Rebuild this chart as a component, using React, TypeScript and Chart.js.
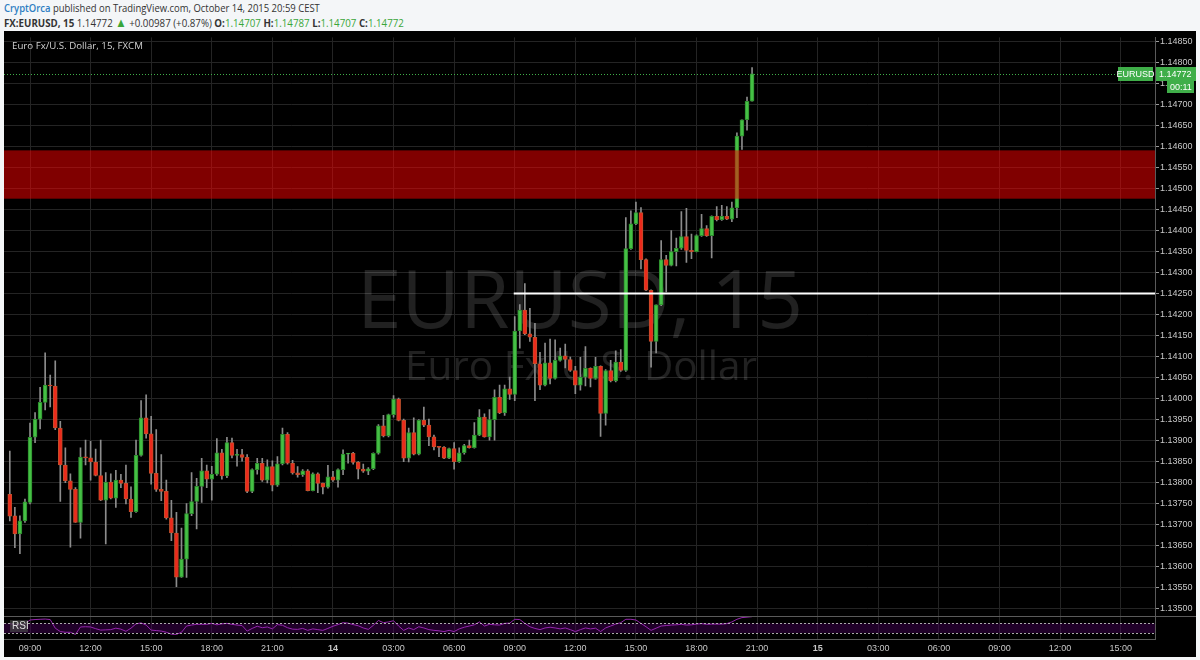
import React, { useEffect, useRef } from 'react';
import { Chart, registerables } from 'chart.js';

Chart.register(...registerables);

// ---- data (15-minute candles, index 0 = Oct 13 09:00) ----
const firstCandleIndex = -4;
const opens = [
  1.13771, 1.13720, 1.13677, 1.13708, 1.13752, 1.13907, 1.13950, 1.13990, 1.14031, 1.14029,
  1.13929, 1.13841, 1.13803, 1.13783, 1.13704, 1.13860, 1.13858, 1.13848, 1.13816, 1.13757,
  1.13800, 1.13762, 1.13805, 1.13797, 1.13760, 1.13730, 1.13864, 1.13953, 1.13915, 1.13821,
  1.13783, 1.13778, 1.13715, 1.13679, 1.13574, 1.13617, 1.13725, 1.13754, 1.13790, 1.13827,
  1.13807, 1.13819, 1.13870, 1.13815, 1.13894, 1.13864, 1.13866, 1.13859, 1.13778, 1.13830,
  1.13845, 1.13805, 1.13837, 1.13793, 1.13844, 1.13914, 1.13845, 1.13822, 1.13818, 1.13827,
  1.13780, 1.13820, 1.13797, 1.13788, 1.13813, 1.13805, 1.13830, 1.13867, 1.13869, 1.13847,
  1.13831, 1.13826, 1.13832, 1.13869, 1.13934, 1.13910, 1.13961, 1.13998, 1.13947, 1.13857,
  1.13918, 1.13867, 1.13947, 1.13936, 1.13908, 1.13884, 1.13883, 1.13857, 1.13880, 1.13849,
  1.13870, 1.13887, 1.13882, 1.13912, 1.13955, 1.13908, 1.13949, 1.14002, 1.13965, 1.14022,
  1.14009, 1.14160, 1.14210, 1.14153, 1.14145, 1.14082, 1.14031, 1.14084, 1.14047, 1.14090,
  1.14101, 1.14092, 1.14066, 1.14031, 1.14050, 1.14071, 1.14047, 1.14076, 1.13964, 1.14066,
  1.14041, 1.14086, 1.14066, 1.14356, 1.14415, 1.14442, 1.14330, 1.14257, 1.14135, 1.14222,
  1.14330, 1.14316, 1.14349, 1.14357, 1.14385, 1.14352, 1.14349, 1.14387, 1.14404, 1.14387,
  1.14433, 1.14425, 1.14433, 1.14426, 1.14453, 1.14624, 1.14663, 1.14707,
];
const highs = [
  1.13874, 1.13740, 1.13720, 1.13760, 1.13941, 1.13966, 1.14026, 1.14108, 1.14055, 1.14089,
  1.13945, 1.13882, 1.13820, 1.13787, 1.13882, 1.13900, 1.13897, 1.13879, 1.13900, 1.13823,
  1.13820, 1.13828, 1.13819, 1.13841, 1.13789, 1.13900, 1.13994, 1.14008, 1.13957, 1.13925,
  1.13866, 1.13805, 1.13757, 1.13728, 1.13691, 1.13749, 1.13823, 1.13809, 1.13857, 1.13841,
  1.13838, 1.13904, 1.13878, 1.13907, 1.13905, 1.13878, 1.13878, 1.13866, 1.13832, 1.13857,
  1.13857, 1.13853, 1.13851, 1.13861, 1.13929, 1.13918, 1.13852, 1.13837, 1.13830, 1.13830,
  1.13822, 1.13822, 1.13798, 1.13840, 1.13826, 1.13832, 1.13877, 1.13869, 1.13871, 1.13849,
  1.13843, 1.13835, 1.13870, 1.13937, 1.13959, 1.13962, 1.14006, 1.14000, 1.13950, 1.13929,
  1.13953, 1.13949, 1.13979, 1.13950, 1.13912, 1.13885, 1.13885, 1.13881, 1.13894, 1.13882,
  1.13890, 1.13900, 1.13942, 1.13973, 1.13963, 1.13973, 1.14020, 1.14031, 1.14031, 1.14050,
  1.14194, 1.14223, 1.14273, 1.14214, 1.14178, 1.14109, 1.14131, 1.14141, 1.14139, 1.14119,
  1.14129, 1.14098, 1.14076, 1.14097, 1.14123, 1.14072, 1.14097, 1.14077, 1.14068, 1.14090,
  1.14113, 1.14116, 1.14430, 1.14446, 1.14467, 1.14454, 1.14332, 1.14258, 1.14222, 1.14375,
  1.14340, 1.14399, 1.14381, 1.14444, 1.14452, 1.14391, 1.14389, 1.14438, 1.14411, 1.14434,
  1.14456, 1.14459, 1.14456, 1.14467, 1.14632, 1.14663, 1.14717, 1.14787,
];
const lows = [
  1.13708, 1.13644, 1.13630, 1.13704, 1.13748, 1.13894, 1.13927, 1.13972, 1.13979, 1.13925,
  1.13754, 1.13799, 1.13645, 1.13704, 1.13667, 1.13841, 1.13805, 1.13815, 1.13756, 1.13653,
  1.13760, 1.13740, 1.13787, 1.13748, 1.13716, 1.13728, 1.13862, 1.13905, 1.13795, 1.13778,
  1.13756, 1.13712, 1.13661, 1.13551, 1.13573, 1.13573, 1.13720, 1.13689, 1.13752, 1.13787,
  1.13757, 1.13816, 1.13807, 1.13811, 1.13858, 1.13838, 1.13850, 1.13775, 1.13775, 1.13819,
  1.13802, 1.13798, 1.13779, 1.13790, 1.13841, 1.13843, 1.13819, 1.13812, 1.13814, 1.13779,
  1.13779, 1.13775, 1.13772, 1.13786, 1.13802, 1.13788, 1.13818, 1.13845, 1.13843, 1.13808,
  1.13823, 1.13818, 1.13830, 1.13867, 1.13908, 1.13908, 1.13955, 1.13946, 1.13849, 1.13848,
  1.13865, 1.13865, 1.13932, 1.13887, 1.13877, 1.13861, 1.13856, 1.13856, 1.13831, 1.13847,
  1.13867, 1.13881, 1.13881, 1.13911, 1.13907, 1.13900, 1.13900, 1.13963, 1.13959, 1.13997,
  1.13994, 1.14119, 1.14151, 1.14135, 1.13994, 1.14020, 1.14029, 1.14034, 1.14045, 1.14088,
  1.14072, 1.14064, 1.14011, 1.14019, 1.14029, 1.14027, 1.14045, 1.13909, 1.13936, 1.14039,
  1.14039, 1.14064, 1.14064, 1.14354, 1.14413, 1.14308, 1.14256, 1.14074, 1.14108, 1.14220,
  1.14253, 1.14315, 1.14315, 1.14354, 1.14323, 1.14332, 1.14348, 1.14385, 1.14385, 1.14334,
  1.14422, 1.14423, 1.14425, 1.14420, 1.14430, 1.14592, 1.14638, 1.14707,
];
const closes = [
  1.13719, 1.13677, 1.13708, 1.13753, 1.13907, 1.13950, 1.13990, 1.14031, 1.14029, 1.13929,
  1.13841, 1.13803, 1.13783, 1.13704, 1.13860, 1.13858, 1.13848, 1.13816, 1.13757, 1.13800,
  1.13762, 1.13805, 1.13797, 1.13760, 1.13730, 1.13864, 1.13953, 1.13915, 1.13821, 1.13783,
  1.13778, 1.13715, 1.13679, 1.13574, 1.13617, 1.13725, 1.13754, 1.13790, 1.13827, 1.13807,
  1.13819, 1.13870, 1.13815, 1.13894, 1.13864, 1.13866, 1.13859, 1.13778, 1.13830, 1.13845,
  1.13805, 1.13837, 1.13793, 1.13844, 1.13914, 1.13845, 1.13822, 1.13818, 1.13827, 1.13780,
  1.13820, 1.13797, 1.13788, 1.13813, 1.13805, 1.13830, 1.13867, 1.13869, 1.13847, 1.13831,
  1.13826, 1.13832, 1.13869, 1.13934, 1.13910, 1.13961, 1.13998, 1.13947, 1.13857, 1.13918,
  1.13867, 1.13947, 1.13936, 1.13908, 1.13884, 1.13883, 1.13857, 1.13880, 1.13849, 1.13870,
  1.13887, 1.13882, 1.13912, 1.13955, 1.13908, 1.13949, 1.14002, 1.13965, 1.14022, 1.14009,
  1.14160, 1.14210, 1.14153, 1.14145, 1.14082, 1.14031, 1.14084, 1.14047, 1.14090, 1.14101,
  1.14092, 1.14066, 1.14031, 1.14050, 1.14071, 1.14047, 1.14076, 1.13964, 1.14066, 1.14041,
  1.14086, 1.14066, 1.14356, 1.14415, 1.14442, 1.14330, 1.14257, 1.14135, 1.14222, 1.14330,
  1.14316, 1.14349, 1.14357, 1.14385, 1.14352, 1.14349, 1.14387, 1.14404, 1.14387, 1.14433,
  1.14425, 1.14433, 1.14426, 1.14453, 1.14624, 1.14663, 1.14707, 1.14772,
];
const rsiValues = [
  70, 62, 64, 68, 84, 86, 87, 88, 86, 50, 36, 33, 33, 24, 55, 56, 55, 48, 42, 43,
  44, 50, 46, 37, 50, 68, 72, 63, 42, 40, 38, 33, 25, 24, 33, 59, 63, 66, 66, 66,
  70, 64, 68, 70, 66, 63, 61, 38, 49, 58, 52, 55, 47, 65, 62, 52, 46, 45, 49, 41,
  47, 44, 41, 49, 58, 65, 73, 71, 65, 60, 51, 45, 62, 82,
  73, 76, 81, 59, 41, 51, 44, 56, 51, 44, 41, 39, 36, 41, 36, 47, 54, 59, 64, 76,
  59, 66, 64, 63, 70, 71, 87, 86, 70, 56, 49, 44, 51, 54, 51, 47, 51, 44, 36, 44,
  51, 47, 50, 36, 51, 59, 67, 73, 87, 87, 84, 70, 56, 41, 50, 59, 61, 63, 64, 66,
  63, 64, 67, 69, 66, 67, 67, 67, 69, 76, 87, 94, 96, 98,
];
const tickLabels = ['09:00', '12:00', '15:00', '18:00', '21:00', '14', '03:00', '06:00', '09:00', '12:00',
  '15:00', '18:00', '21:00', '15', '03:00', '06:00', '09:00', '12:00', '15:00'];
const boldTickLabels = ['14', '15'];
const candlesPerTick = 12;
const xMin = -5.15;
const xMax = 222.8;
const priceMin = 1.13481;
const priceMax = 1.14859;
const priceStep = 0.0005;
const rsiMin = 5;
const rsiMax = 100;
const rsiUpper = 70;
const rsiLower = 30;
const zoneLow = 1.14475;
const zoneHigh = 1.14590;
const levelPrice = 1.14250;
const levelStartIndex = 95.8;
const symbol = 'EURUSD';
const countdown = '00:11';

const UP_FILL = '#45c045';
const UP_BORDER = '#2c8a2c';
const DOWN_FILL = '#ec2a1c';
const DOWN_BORDER = '#c2502c';
const GREEN_TAG = '#3fae49';
const AXIS_FONT = '"Liberation Sans Narrow", "Liberation Sans", Arial, sans-serif';

function fitText(ctx: CanvasRenderingContext2D, text: string, x: number, y: number, width: number, family: string, weight = 'normal') {
  ctx.font = `${weight} 100px ${family}`;
  const w = ctx.measureText(text).width;
  const size = (100 * width) / w;
  ctx.font = `${weight} ${size}px ${family}`;
  ctx.fillText(text, x, y);
}

const overlayPlugin = {
  id: 'tvOverlay',
  beforeDatasetsDraw(chart: any) {
    const { ctx, chartArea: ca, scales } = chart;
    const r = scales.rsi;
    ctx.save();
    // RSI band
    const y70 = r.getPixelForValue(rsiUpper);
    const y30 = r.getPixelForValue(rsiLower);
    ctx.fillStyle = 'rgba(70,0,90,0.45)';
    ctx.fillRect(ca.left, y70, ca.right - ca.left, y30 - y70);
    // watermark
    ctx.fillStyle = 'rgba(255,255,255,0.13)';
    ctx.textAlign = 'left';
    ctx.textBaseline = 'alphabetic';
    fitText(ctx, `${symbol}, 15`, 353, 297, 446, '"Open Sans", sans-serif');
    fitText(ctx, 'Euro Fx/U.S. Dollar', 401, 349, 352, '"Open Sans", sans-serif');
    ctx.restore();
  },
  afterDatasetsDraw(chart: any) {
    const { ctx, chartArea: ca, scales } = chart;
    const y = scales.y;
    const x = scales.x;
    const r = scales.rsi;
    ctx.save();
    // resistance zone
    const zt = y.getPixelForValue(zoneHigh);
    const zb = y.getPixelForValue(zoneLow);
    ctx.fillStyle = 'rgba(255,0,0,0.5)';
    ctx.fillRect(ca.left, zt, ca.right - ca.left, zb - zt);
    // horizontal level
    const ly = Math.round(y.getPixelForValue(levelPrice)) + 0.5;
    ctx.strokeStyle = '#ffffff';
    ctx.lineWidth = 2;
    ctx.beginPath();
    ctx.moveTo(x.getPixelForValue(levelStartIndex), ly);
    ctx.lineTo(ca.right, ly);
    ctx.stroke();
    // last price dotted line
    const lastPrice = closes[closes.length - 1];
    const py = Math.round(y.getPixelForValue(lastPrice)) + 0.5;
    ctx.strokeStyle = GREEN_TAG;
    ctx.lineWidth = 1;
    ctx.setLineDash([1, 2]);
    ctx.beginPath();
    ctx.moveTo(ca.left, py);
    ctx.lineTo(ca.right - 37, py);
    ctx.stroke();
    // RSI levels
    ctx.strokeStyle = 'rgba(200,200,200,0.85)';
    ctx.setLineDash([2, 2]);
    for (const v of [rsiUpper, rsiLower]) {
      const yy = Math.round(r.getPixelForValue(v)) + 0.5;
      ctx.beginPath();
      ctx.moveTo(ca.left, yy);
      ctx.lineTo(ca.right, yy);
      ctx.stroke();
    }
    ctx.restore();
  },
  afterDraw(chart: any) {
    const { ctx, chartArea: ca, scales, width } = chart;
    const y = scales.y;
    const r = scales.rsi;
    ctx.save();
    // pane separator
    const sy = Math.round(r.top) + 0.5;
    ctx.strokeStyle = '#5a5a5a';
    ctx.lineWidth = 1;
    ctx.beginPath();
    ctx.moveTo(0, sy);
    ctx.lineTo(width, sy);
    ctx.stroke();
    // title
    ctx.fillStyle = '#d2d2d2';
    ctx.textBaseline = 'alphabetic';
    ctx.textAlign = 'left';
    fitText(ctx, 'Euro Fx/U.S. Dollar, 15, FXCM', 8, 18, 131, '"Open Sans", sans-serif');
    // RSI label
    ctx.fillStyle = 'rgba(70,70,70,0.7)';
    ctx.fillRect(ca.left + 6, r.top + 4, 18, 12);
    ctx.fillStyle = '#dddddd';
    ctx.font = `10px ${AXIS_FONT}`;
    ctx.textBaseline = 'middle';
    ctx.fillText('RSI', ca.left + 8, r.top + 10.5);
    // last price tags
    const lastPrice = closes[closes.length - 1];
    const py = Math.round(y.getPixelForValue(lastPrice));
    ctx.fillStyle = GREEN_TAG;
    ctx.fillRect(ca.right - 37, py - 7, 35, 14);
    ctx.fillRect(ca.right + 1, py - 7, 40, 14);
    ctx.fillRect(ca.right + 12, py + 7, 27, 12);
    ctx.fillStyle = '#ffffff';
    ctx.font = `9px ${AXIS_FONT}`;
    ctx.textBaseline = 'middle';
    ctx.textAlign = 'center';
    ctx.fillText(symbol, ca.right - 19.5, py + 0.5);
    ctx.textAlign = 'left';
    ctx.fillText(lastPrice.toFixed(5), ca.right + 4, py + 0.5);
    ctx.fillText(countdown, ca.right + 15, py + 13.5);
    ctx.restore();
  },
};

function ChartView() {
  const ref = useRef<HTMLCanvasElement | null>(null);
  useEffect(() => {
    if (!ref.current) return;
    const idx = opens.map((_, k) => k + firstCandleIndex);
    const up = opens.map((o, k) => closes[k] >= o);
    const chart = new Chart(ref.current, {
      type: 'bar',
      data: {
        datasets: [
          {
            type: 'bar',
            label: 'body',
            data: idx.map((xv, k) => ({ x: xv, y: [opens[k], closes[k]] })) as any,
            backgroundColor: up.map((u) => (u ? UP_FILL : DOWN_FILL)),
            borderColor: up.map((u) => (u ? UP_BORDER : DOWN_BORDER)),
            borderWidth: 1,
            borderSkipped: false,
            barThickness: 4,
            minBarLength: 1,
            grouped: false,
            xAxisID: 'x',
            yAxisID: 'y',
          } as any,
          {
            type: 'bar',
            label: 'wick',
            data: idx.map((xv, k) => ({ x: xv, y: [lows[k], highs[k]] })) as any,
            backgroundColor: '#8c8c8c',
            borderWidth: 0,
            barThickness: 1,
            grouped: false,
            xAxisID: 'x',
            yAxisID: 'y',
          } as any,
          {
            type: 'line',
            label: 'RSI',
            data: idx.map((xv, k) => ({ x: xv, y: rsiValues[k] })) as any,
            borderColor: '#9526ad',
            borderWidth: 1,
            pointRadius: 0,
            tension: 0,
            xAxisID: 'x',
            yAxisID: 'rsi',
          } as any,
        ],
      },
      options: {
        animation: false,
        responsive: false,
        devicePixelRatio: 1,
        events: [],
        layout: { padding: { top: 2, left: 0, right: 0, bottom: 0 } },
        plugins: { legend: { display: false }, tooltip: { enabled: false } },
        scales: {
          x: {
            type: 'linear',
            min: xMin,
            max: xMax,
            offset: false,
            grid: { color: '#242424', offset: false, drawTicks: false },
            border: { display: true, color: '#5a5a5a' },
            afterBuildTicks: (scale: any) => {
              scale.ticks = tickLabels.map((_, k) => ({ value: k * candlesPerTick }));
            },
            afterFit: (scale: any) => {
              scale.height = 18;
            },
            ticks: {
              autoSkip: false,
              maxRotation: 0,
              padding: 4,
              color: '#c8c8c8',
              font: (c: any) => ({
                family: AXIS_FONT,
                size: 9,
                weight: boldTickLabels.includes(tickLabels[c.index]) ? 'bold' : 'normal',
              }),
              callback: (_v: any, i: number) => tickLabels[i],
            },
          },
          y: {
            type: 'linear',
            position: 'right',
            stack: 'panes',
            stackWeight: 583,
            offset: false,
            min: priceMin,
            max: priceMax,
            beginAtZero: false,
            grid: { color: '#242424', tickColor: '#9a9a9a', tickLength: 4 },
            border: { display: true, color: '#5a5a5a' },
            afterFit: (scale: any) => {
              scale.width = 41;
            },
            ticks: {
              stepSize: priceStep,
              autoSkip: false,
              includeBounds: false,
              padding: 1,
              color: '#c8c8c8',
              font: { family: AXIS_FONT, size: 9 },
              callback: (v: any) => Number(v).toFixed(5),
            },
          },
          rsi: {
            type: 'linear',
            position: 'right',
            stack: 'panes',
            stackWeight: 23,
            offset: false,
            min: rsiMin,
            max: rsiMax,
            grid: { display: false },
            border: { display: true, color: '#5a5a5a' },
            afterFit: (scale: any) => {
              scale.width = 41;
            },
            ticks: { display: false },
          },
        },
      } as any,
      plugins: [overlayPlugin],
    });
    return () => chart.destroy();
  }, []);
  return <canvas ref={ref} width={1192} height={626} style={{ display: 'block' }} />;
}

export default function App() {
  const n = closes.length - 1;
  const green = { color: '#3aa63a' };
  const line: React.CSSProperties = {
    position: 'absolute',
    left: 4,
    fontSize: 11,
    lineHeight: '14px',
    whiteSpace: 'nowrap',
    transformOrigin: 'left center',
    color: '#333',
  };
  return (
    <div
      style={{
        position: 'fixed',
        left: 0,
        top: 0,
        width: 1200,
        height: 660,
        background: '#f4f6f8',
        overflow: 'hidden',
        fontFamily: '"Open Sans", sans-serif',
      }}
    >
      <div style={{ ...line, top: 1, transform: 'scaleX(0.86)' }}>
        <span style={{ color: '#2e7ec2', fontWeight: 600 }}>CryptOrca</span> published on TradingView.com, October 14, 2015 20:59 CEST
      </div>
      <div style={{ ...line, top: 15, transform: 'scaleX(0.885)' }}>
        <b>FX:EURUSD, 15</b> {closes[n].toFixed(5)} <span style={{ ...green, fontSize: 13 }}>▲</span> +0.00987 (+0.87%){' '}
        <b>O:</b><span style={green}>{opens[n].toFixed(5)}</span> <b>H:</b><span style={green}>{highs[n].toFixed(5)}</span>{' '}
        <b>L:</b><span style={green}>{lows[n].toFixed(5)}</span> <b>C:</b><span style={green}>{closes[n].toFixed(5)}</span>
      </div>
      <div style={{ position: 'absolute', left: 4, top: 31, width: 1192, height: 626, background: '#000' }}>
        <ChartView />
      </div>
    </div>
  );
}
